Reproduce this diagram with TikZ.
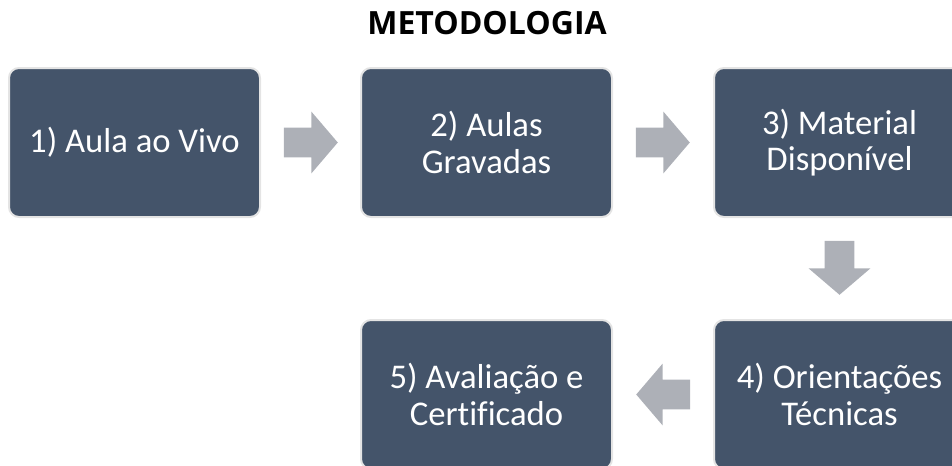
\documentclass[tikz,border=0pt]{standalone}
\usepackage{fontspec}
\setmainfont{Carlito}[Ligatures=NoCommon]
\newfontfamily\titlefont{Open Sans}
\usetikzlibrary{calc,shapes.arrows}
\definecolor{boxblue}{HTML}{44546A}
\definecolor{arrowgray}{HTML}{ADB0B7}
\definecolor{boxedge}{HTML}{E4E4E4}
\tikzset{
  etapa/.style={fill=boxblue, draw=boxedge, line width=1.5pt, rounded corners=7.5pt,
    minimum width=188.25pt, minimum height=111.75pt, inner sep=0pt,
    text=white, align=center, font=\fontsize{26}{27.5}\selectfont},
  seta/.style={single arrow, fill=arrowgray, draw=none, inner xsep=0pt, inner ysep=10.875pt,
    minimum height=40.5pt, minimum width=45.75pt, single arrow head extend=12pt,
    single arrow tip angle=99, anchor=tail, rotate=#1}
}
\begin{document}
\begin{tikzpicture}[x=0.75pt,y=-0.75pt]
\useasboundingbox (0,0) rectangle (952,465);
\clip (0,0) rectangle (952,465);
\node[font=\titlefont\bfseries\fontsize{24}{28}\selectfont] (titulo) at (487,23) {METODOLOGIA};
% primeira linha
\node[etapa] (b1) at (134.5,142.5) {1) Aula ao Vivo};
\node[etapa] (b2) at (486.5,142.5) {2) Aulas\\Gravadas};
\node[etapa] (b3) at (839.5,142.5) {3) Material\\Disponível};
% segunda linha
\node[etapa] (b4) at (839.5,394.5) {4) Orientações\\Técnicas};
\node[etapa] (b5) at (486.5,394.5) {5) Avaliação e\\Certificado};
% setas
\node[seta=0] (s12) at ($(b1.east)+(22.5,0)$) {};
\node[seta=0] (s23) at ($(b2.east)+(22.5,0)$) {};
\node[seta=-90] (s34) at ($(b3.south)+(0,22.5)$) {};
\node[seta=180] (s45) at ($(b4.west)+(-22.5,0)$) {};
\end{tikzpicture}
\end{document}
